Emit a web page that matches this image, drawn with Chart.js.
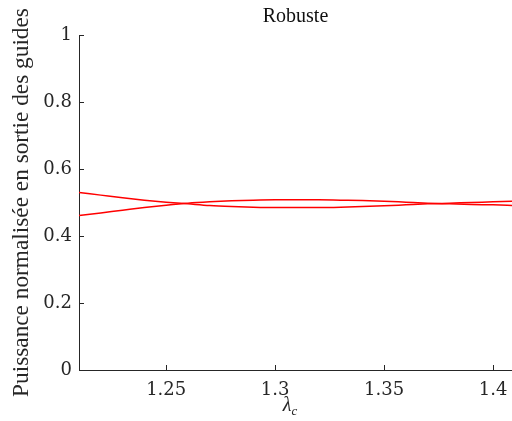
<!DOCTYPE html>
<html>
<head>
<meta charset="utf-8">
<script src="https://cdn.jsdelivr.net/npm/chart.js@4"></script>
<style>
html,body{margin:0;padding:0;background:#fff;overflow:hidden;}
#wrap{width:512px;height:421px;position:relative;}
</style>
</head>
<body>
<div id="wrap"><canvas id="c"></canvas></div>
<script>
const lambdas = [1.21,1.22,1.23,1.24,1.25,1.26,1.27,1.28,1.29,1.30,1.31,1.32,1.33,1.34,1.35,1.36,1.37,1.38,1.39,1.40,1.41];
const guide1 = [0.530,0.522,0.514,0.507,0.501,0.496,0.491,0.488,0.486,0.485,0.485,0.485,0.486,0.488,0.490,0.493,0.496,0.498,0.500,0.502,0.504];
const guide2 = [0.461,0.469,0.477,0.485,0.492,0.498,0.502,0.505,0.507,0.508,0.508,0.508,0.507,0.506,0.504,0.501,0.498,0.496,0.494,0.493,0.491];
const xTicks = [1.25,1.3,1.35,1.4];
const xTickLabels = ['1.25','1.3','1.35','1.4'];
const yTicks = [0,0.2,0.4,0.6,0.8,1];
const yTickLabels = ['0','0.2','0.4','0.6','0.8','1'];
const titleText = 'Robuste';
const yTitle = 'Puissance normalisée en sortie des guides';
const xTitleMain = 'λ';
const xTitleSub = 'c';

const axisColor = '#262626';

const toPts = (ys) => lambdas.map((x,i)=>({x:x,y:ys[i]}));

const innerTicks = {
  id:'innerTicks',
  afterDatasetsDraw(chart){
    const ctx = chart.ctx, xs = chart.scales.x, ys = chart.scales.y, a = chart.chartArea;
    ctx.save();
    ctx.strokeStyle = axisColor; ctx.lineWidth = 1;
    ctx.beginPath();
    xTicks.forEach(v=>{ const px = Math.round(xs.getPixelForValue(v))+0.5; ctx.moveTo(px,a.bottom); ctx.lineTo(px,a.bottom-5); });
    yTicks.forEach(v=>{ const py = Math.round(ys.getPixelForValue(v))+0.5; ctx.moveTo(a.left,py); ctx.lineTo(a.left+5,py); });
    ctx.stroke();
    // x title with subscript
    ctx.fillStyle = axisColor;
    ctx.textBaseline = 'alphabetic';
    ctx.font = 'italic 20px "Liberation Serif"';
    const w1 = ctx.measureText(xTitleMain).width;
    ctx.font = 'italic 13px "Liberation Serif"';
    const w2 = ctx.measureText(xTitleSub).width;
    const cx = 290;
    const x0 = cx - (w1+w2)/2;
    ctx.font = 'italic 20px "Liberation Serif"';
    ctx.fillText(xTitleMain, x0, 411);
    ctx.font = 'italic 13px "Liberation Serif"';
    ctx.fillText(xTitleSub, x0 + w1, 415);
    ctx.restore();
  }
};

new Chart(document.getElementById('c'), {
  type:'line',
  data:{
    datasets:[
      {data:toPts(guide1), borderColor:'#ff0000', borderWidth:1.5, pointRadius:0, cubicInterpolationMode:'monotone', fill:false},
      {data:toPts(guide2), borderColor:'#ff0000', borderWidth:1.5, pointRadius:0, cubicInterpolationMode:'monotone', fill:false}
    ]
  },
  options:{
    responsive:true, maintainAspectRatio:false, animation:false,
    layout:{padding:{left:0,right:0,top:0,bottom:0}},
    plugins:{
      legend:{display:false}, tooltip:{enabled:false},
      title:{display:true, text:titleText, fullSize:false, color:'#111',
        font:{family:'"Liberation Serif"', size:20, weight:'normal', lineHeight:1.2},
        padding:{top:5,bottom:6}}
    },
    scales:{
      x:{type:'linear', min:1.21, max:1.4087,
        afterBuildTicks:(s)=>{ s.ticks = xTicks.map(v=>({value:v})); },
        afterFit:(s)=>{ s.height = 51; s.paddingLeft = 0; s.paddingRight = 0; },
        grid:{display:false, drawTicks:false},
        border:{display:true, color:axisColor, width:1},
        ticks:{padding:10, color:axisColor, maxRotation:0, autoSkip:false,
          font:{family:'"DejaVu Serif"', size:18},
          callback:(v)=>{ const i = xTicks.indexOf(v); return i>=0 ? xTickLabels[i] : ''; }}
      },
      y:{type:'linear', min:0, max:1,
        afterBuildTicks:(s)=>{ s.ticks = yTicks.map(v=>({value:v})); },
        afterFit:(s)=>{ s.width = 79; s.paddingTop = 0; s.paddingBottom = 0; },
        grid:{display:false, drawTicks:false},
        border:{display:true, color:axisColor, width:1},
        title:{display:true, text:yTitle, color:axisColor,
          font:{family:'"Liberation Serif"', size:23.3, weight:'normal', lineHeight:1.2}, padding:{top:8,bottom:0}},
        ticks:{padding:7, color:axisColor, autoSkip:false,
          font:{family:'"DejaVu Serif"', size:18},
          callback:(v)=>{ const i = yTicks.indexOf(v); return i>=0 ? yTickLabels[i] : ''; }}
      }
    }
  },
  plugins:[innerTicks]
});
</script>
</body>
</html>
